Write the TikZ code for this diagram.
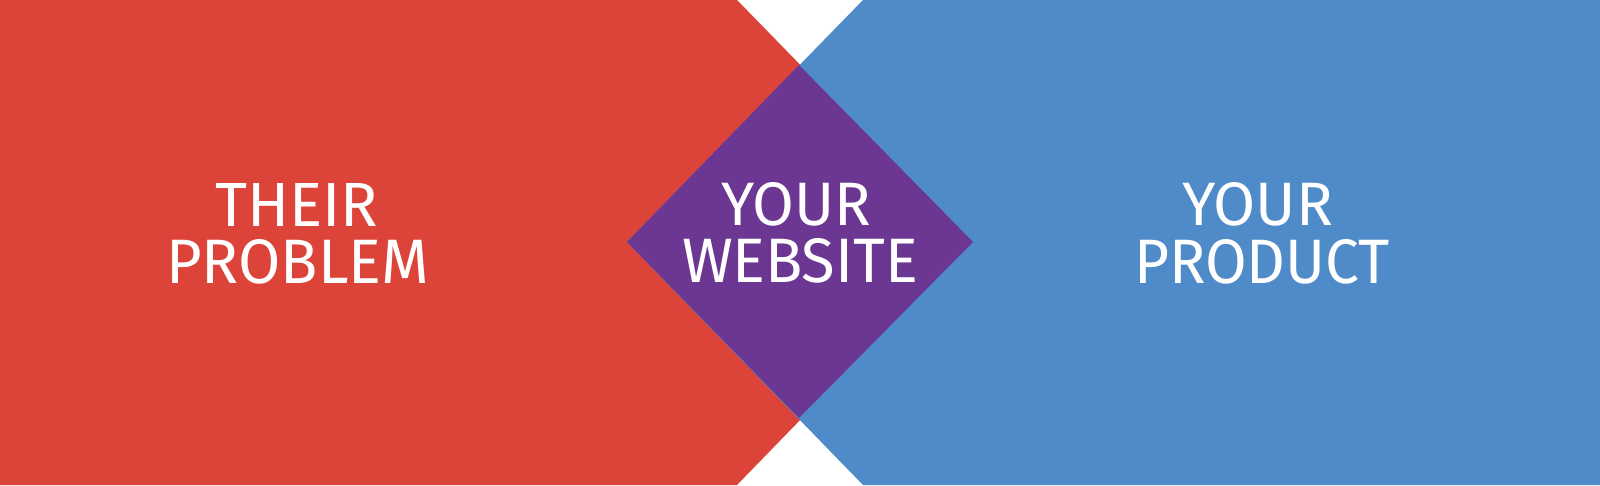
\documentclass[tikz,border=0pt]{standalone}
\usepackage{fontspec}
\setmainfont{Fira Sans}
\usepackage{graphicx}
\definecolor{redc}{HTML}{DC443A}
\definecolor{bluec}{HTML}{4F8AC9}
\definecolor{purplec}{HTML}{6C3792}
\tikzset{
  lbl/.style={anchor=north west, inner sep=0pt, outer sep=0pt, text=white},
}
\newcommand{\fitline}[3]{\resizebox{#1pt}{#2pt}{#3}}
\begin{document}
\begin{tikzpicture}[x=1pt,y=-1pt]
\useasboundingbox (0,0) rectangle (1600,485);
\fill[white] (0,0) rectangle (1600,485);
% shapes
\fill[redc] (0,0) -- (737,0) -- (973,242) -- (737,485) -- (0,485) -- cycle;
\fill[bluec] (863,0) -- (1600,0) -- (1600,485) -- (863,485) -- (627,242) -- cycle;
\fill[purplec] (627,242) -- (799,65) -- (973,242) -- (799,418) -- cycle;
% texts
\node[lbl] (t1) at (215,183) {\fitline{163}{43}{THEIR}};
\node[lbl] (t2) at (166,239) {\fitline{263}{44}{PROBLEM}};
\node[lbl] (m1) at (721,182) {\fitline{150}{43}{YOUR}};
\node[lbl] (m2) at (682,238) {\fitline{236}{44}{WEBSITE}};
\node[lbl] (r1) at (1182,182) {\fitline{151}{43}{YOUR}};
\node[lbl] (r2) at (1134,239) {\fitline{256}{44}{PRODUCT}};
\end{tikzpicture}
\end{document}
